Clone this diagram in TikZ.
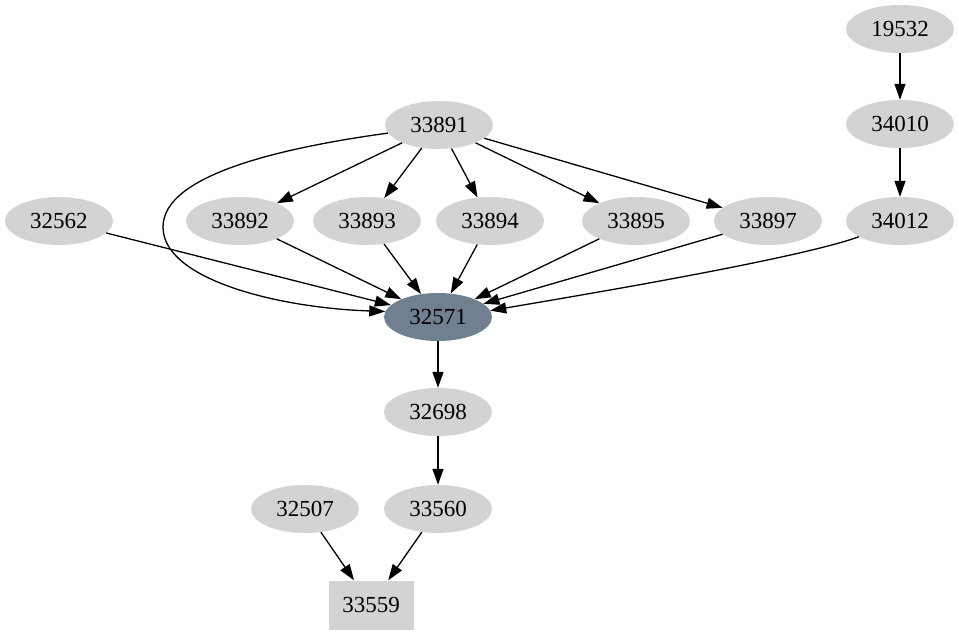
\documentclass[tikz,border=0pt]{standalone}
\usepackage{fontspec}
\setmainfont{Liberation Serif}
\usetikzlibrary{arrows.meta,shapes.geometric}
\definecolor{lgray}{HTML}{D3D3D3}
\definecolor{sgray}{HTML}{708090}
\begin{document}
\begin{tikzpicture}[x=1pt,y=-1pt,
  nd/.style={ellipse,fill=lgray,minimum width=108pt,minimum height=48pt,inner sep=0pt,font=\fontsize{23}{26}\selectfont},
  hl/.style={nd,fill=sgray},
  bx/.style={rectangle,fill=lgray,minimum width=85pt,minimum height=49pt,inner sep=0pt,font=\fontsize{23}{26}\selectfont},
  ed/.style={-{Triangle[length=16pt,width=11pt]},line width=1.3pt,black}]
\useasboundingbox (0,0) rectangle (959,635);
\node[nd] (n19532) at (900,29) {19532};
\node[nd] (n34010) at (900,124) {34010};
\node[nd] (n33891) at (439,125) {33891};
\node[nd] (n32562) at (59,221) {32562};
\node[nd] (n33892) at (240,221) {33892};
\node[nd] (n33893) at (367,221) {33893};
\node[nd] (n33894) at (490,221) {33894};
\node[nd] (n33895) at (636,221) {33895};
\node[nd] (n33897) at (768,221) {33897};
\node[nd] (n34012) at (900,221) {34012};
\node[hl] (n32571) at (438,317) {32571};
\node[nd] (n32698) at (438,412) {32698};
\node[nd] (n32507) at (305,509) {32507};
\node[nd] (n33560) at (438,509) {33560};
\node[bx] (n33559) at (371,605) {33559};
\draw[ed] (n19532) -- (n34010);
\draw[ed] (n34010) -- (n34012);
\draw[ed] (n33891) -- (n33892);
\draw[ed] (n33891) -- (n33893);
\draw[ed] (n33891) -- (n33894);
\draw[ed] (n33891) -- (n33895);
\draw[ed] (n33891) -- (n33897);
\draw[ed] (n33891.189) .. controls (280,148) and (163,175) .. (163,227) .. controls (163,280) and (280,308) .. (n32571.174);
\draw[ed] (n32562) -- (n32571);
\draw[ed] (n33892) -- (n32571);
\draw[ed] (n33893) -- (n32571);
\draw[ed] (n33894) -- (n32571);
\draw[ed] (n33895) -- (n32571);
\draw[ed] (n33897) -- (n32571);
\draw[ed] (n34012.201) .. controls (800,258) and (600,292) .. (n32571.7);
\draw[ed] (n32571) -- (n32698);
\draw[ed] (n32698) -- (n33560);
\draw[ed] (n32507) -- (n33559);
\draw[ed] (n33560) -- (n33559);
\end{tikzpicture}
\end{document}
